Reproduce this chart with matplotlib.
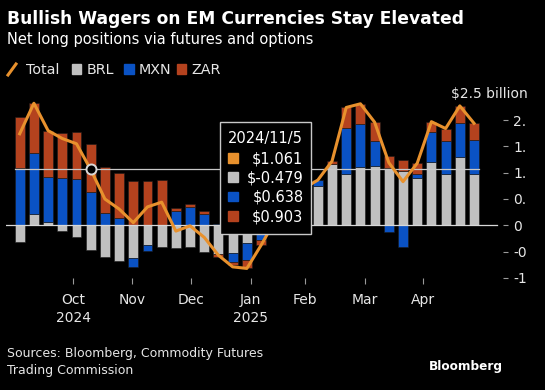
import matplotlib
matplotlib.use("Agg")
import matplotlib.pyplot as plt
import numpy as np
from matplotlib.patches import Rectangle
from matplotlib.lines import Line2D
from matplotlib.transforms import blended_transform_factory

# weekly net long positions, $ billion
brl = [-0.32, 0.21, 0.06, -0.11, -0.22, -0.479, -0.61, -0.68, -0.63, -0.37, -0.42,
       -0.44, -0.41, -0.50, -0.54, -0.53, -0.34, -0.12, 0.25, 0.45, 0.60, 0.75,
       1.16, 0.98, 1.11, 1.13, 1.08, 1.03, 0.89, 1.20, 0.98, 1.29, 0.98]
mxn = [1.08, 1.16, 0.85, 0.89, 0.88, 0.638, 0.24, 0.13, -0.16, -0.12, 0.01,
       0.28, 0.34, 0.21, 0.03, -0.17, -0.32, -0.15, -0.12, 0.00, 0.08, 0.11,
       0.00, 0.87, 0.82, 0.48, -0.12, -0.41, 0.08, 0.57, 0.63, 0.65, 0.64]
zar = [0.98, 0.95, 0.89, 0.87, 0.89, 0.903, 0.87, 0.86, 0.84, 0.84, 0.86,
       0.05, 0.06, 0.06, -0.06, -0.06, -0.16, -0.10, -0.03, 0.00, 0.02, 0.00,
       0.06, 0.39, 0.38, 0.35, 0.23, 0.21, 0.21, 0.20, 0.23, 0.33, 0.32]
total = [1.74, 2.32, 1.80, 1.65, 1.55, 1.061, 0.50, 0.31, 0.05, 0.35, 0.44,
         -0.11, -0.01, -0.23, -0.57, -0.79, -0.82, -0.38, 0.10, 0.45, 0.70, 0.86,
         1.22, 2.24, 2.31, 1.96, 1.19, 0.83, 1.18, 1.97, 1.84, 2.27, 1.94]

month_labels = ["Oct\n2024", "Nov", "Dec", "Jan\n2025", "Feb", "Mar", "Apr"]
month_pos = [3.78, 7.89, 12.09, 16.27, 20.10, 24.32, 28.38]
ytick_vals = [-1, -0.5, 0, 0.5, 1, 1.5, 2]
ytick_text = ["-1", "-0", "0", "0.", "1.", "1.", "2."]

hover_idx = 5
tip_date = "2024/11/5"
tip_vals = ["$1.061", "$-0.479", "$0.638", "$0.903"]

ORANGE = "#e8912d"
GRAY = "#c0c0c0"
BLUE = "#0a52c4"
RED = "#b4421e"
TXT = "#e6e6e6"

W, H = 545, 390
plt.rcParams["font.family"] = ["DejaVu Sans"]


def fx(x):
    return x / W


def fy(y):
    return 1 - y / H


fig = plt.figure(figsize=(W / 100, H / 100), dpi=100, facecolor="black")

# axes placed so bar i sits at 19.7 + 14.197*i px, zero at y=225.3 px
left_px, right_px, top_px, bot_px = 6, 503, 85, 277.9
ax = fig.add_axes([fx(left_px), fy(bot_px), (right_px - left_px) / W, (bot_px - top_px) / H])
ax.set_facecolor("black")
step = 14.197
ax.set_xlim((left_px - 19.7) / step, (right_px - 19.7) / step)
ax.set_ylim(-1.0, (225.3 - top_px) / 52.6)

x = np.arange(len(total))
pos_base = np.zeros(len(x))
neg_base = np.zeros(len(x))
for vals, col in [(brl, GRAY), (mxn, BLUE), (zar, RED)]:
    v = np.array(vals)
    bottom = np.where(v >= 0, pos_base, neg_base)
    ax.bar(x, v, bottom=bottom, width=0.70, color=col, edgecolor="#1a1a1a",
           linewidth=0.4, zorder=2)
    pos_base = pos_base + np.where(v >= 0, v, 0)
    neg_base = neg_base + np.where(v < 0, v, 0)

ax.plot([ax.get_xlim()[0], (497 - 19.7) / step], [0, 0], color="#d8d8d8", lw=0.9, zorder=3)
ax.plot([-0.35, len(x) - 0.65], [total[hover_idx]] * 2, color="#c8c8c8", lw=0.9, zorder=4)
ax.plot(x, total, color=ORANGE, lw=2.2, zorder=5, solid_joinstyle="round")
ax.plot([hover_idx], [total[hover_idx]], "o", ms=7.2, mfc="black", mec="#d8d8d8",
        mew=1.4, zorder=6)

for s in ax.spines.values():
    s.set_visible(False)
ax.yaxis.tick_right()
ax.set_yticks(ytick_vals)
ax.set_yticklabels(ytick_text)
ax.set_xticks(month_pos)
ax.set_xticklabels(month_labels, linespacing=1.35)
ax.tick_params(axis="y", length=3.6, pad=3.6, colors="#9a9a9a", labelcolor=TXT, labelsize=10)
ax.tick_params(axis="x", length=4.0, pad=7, colors="#9a9a9a", labelcolor=TXT, labelsize=10)
ax.text(fx(451), 2.5, "$2.5 billion", transform=blended_transform_factory(fig.transFigure, ax.transData),
        color=TXT, fontsize=10, va="center", ha="left")

# title block
fig.text(fx(7), fy(24), "Bullish Wagers on EM Currencies Stay Elevated", color="white",
         fontsize=12.3, fontweight="bold", va="baseline")
fig.text(fx(7), fy(44), "Net long positions via futures and options", color="white",
         fontsize=10.5, va="baseline")

# legend
fig.add_artist(Line2D([fx(8), fx(16)], [fy(75), fy(64)], color=ORANGE, lw=2.2))
fig.text(fx(26.5), fy(74), "Total", color=TXT, fontsize=10.3, va="baseline")
for sx, lab, col in [(71.7, "BRL", GRAY), (124, "MXN", BLUE), (176.7, "ZAR", RED)]:
    fig.add_artist(Rectangle((fx(sx), fy(73.5)), 9.5 / W, 9.5 / H, color=col,
                             transform=fig.transFigure))
    fig.text(fx(sx + 14.5), fy(74), lab, color=TXT, fontsize=10.3, va="baseline")

# tooltip
fig.add_artist(Rectangle((fx(220), fy(234)), 90.7 / W, 112 / H, facecolor="black",
                         edgecolor="#c8c8c8", lw=1, transform=fig.transFigure, zorder=7))
fig.text(fx(265.5), fy(143.3), tip_date, color="white", fontsize=10.5, ha="center",
         va="baseline", zorder=8)
for ry, lab, col in zip([163.3, 182.3, 201.7, 221.0], tip_vals, [ORANGE, GRAY, BLUE, RED]):
    fig.add_artist(Rectangle((fx(228), fy(ry - 0.5)), 9.5 / W, 9.5 / H, color=col,
                             transform=fig.transFigure, zorder=8))
    fig.text(fx(303.5), fy(ry), lab, color="white", fontsize=10.5, ha="right",
             va="baseline", zorder=8)

# footer
fig.text(fx(7), fy(357.3), "Sources: Bloomberg, Commodity Futures", color=TXT,
         fontsize=9, va="baseline")
fig.text(fx(7), fy(374), "Trading Commission", color=TXT, fontsize=9, va="baseline")
fig.text(fx(503), fy(370), "Bloomberg", color="white", fontsize=8.7, fontweight="bold",
         ha="right", va="baseline")

fig.savefig("out.png", dpi=100, facecolor="black")
